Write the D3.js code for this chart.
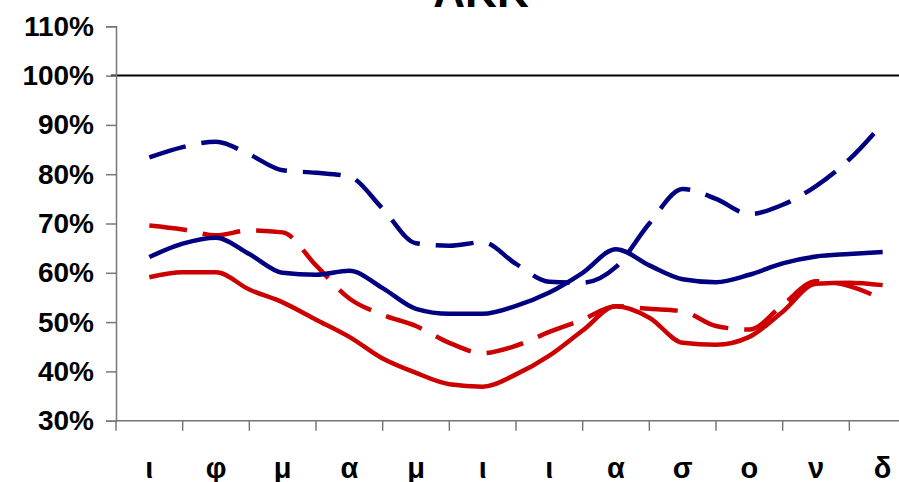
<!DOCTYPE html>
<html>
<head>
<meta charset="utf-8">
<script src="https://cdn.jsdelivr.net/npm/d3@7"></script>
<style>
  html, body { margin: 0; padding: 0; background: #fff; overflow: hidden; }
  svg { display: block; font-family: "Liberation Sans", Arial, sans-serif; }
</style>
</head>
<body>
<svg id="chart" width="899" height="482"></svg>
<script>
// Month initials (Greek) for the category axis
const months = ["ι", "φ", "μ", "α", "μ", "ι", "ι", "α", "σ", "ο", "ν", "δ"];

// Readings every half month, expressed as a month position (0 = first month)
const halfMonths = [0, 0.5, 1, 1.5, 2, 2.5, 3, 3.5, 4, 4.5, 5, 5.5,
                    6, 6.5, 7, 7.5, 8, 8.5, 9, 9.5, 10, 10.5, 11];

// Series values, in percent
const blueSolid  = [63.2, 65.9, 67.1, 63.8, 60.0, 59.6, 60.4, 56.9, 52.7, 51.7, 51.7, 53.3,
                    56.0, 60.0, 64.8, 61.5, 58.7, 58.1, 59.6, 61.9, 63.3, 63.8, 64.2];
const blueDashed = [83.4, 85.5, 86.6, 84.0, 80.8, 80.3, 79.5, 73.0, 66.0, 65.5, 66.2, 61.8,
                    58.2, 58.0, 61.2, 70.0, 77.0, 75.0, 71.9, 73.8, 77.6, 83.0, 90.3];
const redSolid   = [59.1, 60.1, 60.1, 56.6, 54.0, 50.5, 47.0, 42.6, 39.7, 37.4, 36.9, 39.4,
                    43.2, 48.3, 53.2, 50.9, 45.8, 45.4, 47.0, 52.1, 57.8, 58.0, 57.5];
const redDashed  = [69.6, 68.8, 67.6, 68.6, 68.2, 61.5, 54.8, 51.5, 49.2, 45.8, 43.7, 45.2,
                    48.0, 50.5, 53.2, 52.7, 52.2, 49.2, 48.5, 53.5, 58.3, 57.3, 54.6];

// Y-axis ticks (percent)
const yTicks = [30, 40, 50, 60, 70, 80, 90, 100, 110];

const svg = d3.select("#chart");
const plotLeft = 116, plotRight = 916, plotTop = 26.3, plotBottom = 420.7;

const xBand = d3.scaleBand().domain(d3.range(months.length)).range([plotLeft, plotRight]);
const x = d3.scaleLinear().domain([-0.5, months.length - 0.5]).range([plotLeft, plotRight]);
const y = d3.scaleLinear().domain([30, 110]).range([plotBottom, plotTop]);

// Title (partly above the top edge)
svg.append("text")
  .attr("x", 481).attr("y", 7)
  .attr("text-anchor", "middle")
  .attr("font-size", 44).attr("font-weight", "bold")
  .text("AKK");

// 100% reference line
svg.append("line")
  .attr("x1", plotLeft - 5).attr("x2", plotRight)
  .attr("y1", y(100)).attr("y2", y(100))
  .attr("stroke", "#000").attr("stroke-width", 2);

// Y axis
const yAxis = svg.append("g")
  .attr("transform", `translate(${plotLeft},0)`)
  .call(d3.axisLeft(y).tickValues(yTicks).tickSize(10).tickPadding(12)
        .tickFormat(d => d + "%"));
yAxis.select(".domain").attr("stroke", "#777").attr("stroke-width", 1.5);
yAxis.selectAll(".tick line").attr("stroke", "#777").attr("stroke-width", 1.5);
yAxis.selectAll(".tick text")
  .attr("font-size", 28).attr("font-weight", "bold").attr("fill", "#000")
  .attr("font-family", "Liberation Sans, Arial, sans-serif");

// X axis: tick marks between categories
const xAxis = svg.append("g").attr("transform", `translate(0,${plotBottom})`);
xAxis.append("line")
  .attr("x1", plotLeft).attr("x2", plotRight)
  .attr("stroke", "#777").attr("stroke-width", 1.5);
xAxis.selectAll("line.tick")
  .data(d3.range(months.length + 1))
  .join("line")
  .attr("class", "tick")
  .attr("x1", i => plotLeft + i * xBand.step()).attr("x2", i => plotLeft + i * xBand.step())
  .attr("y1", 0).attr("y2", 10)
  .attr("stroke", "#777").attr("stroke-width", 1.5);
xAxis.selectAll("text")
  .data(months)
  .join("text")
  .attr("x", (d, i) => xBand(i) + xBand.bandwidth() / 2)
  .attr("y", 57)
  .attr("text-anchor", "middle")
  .attr("font-size", 29).attr("font-weight", "bold")
  .text(d => d);

// Series lines
const series = [
  { values: redSolid,   color: "#cc0000", dash: null },
  { values: redDashed,  color: "#cc0000", dash: "38,16" },
  { values: blueDashed, color: "#000080", dash: "38,16" },
  { values: blueSolid,  color: "#000080", dash: null }
];

const line = d3.line()
  .x((d, i) => x(halfMonths[i]))
  .y(d => y(d))
  .curve(d3.curveMonotoneX);

svg.selectAll("path.series")
  .data(series)
  .join("path")
  .attr("class", "series")
  .attr("d", s => line(s.values))
  .attr("fill", "none")
  .attr("stroke", s => s.color)
  .attr("stroke-width", 4.5)
  .attr("stroke-linejoin", "round")
  .attr("stroke-dasharray", s => s.dash);
</script>
</body>
</html>
